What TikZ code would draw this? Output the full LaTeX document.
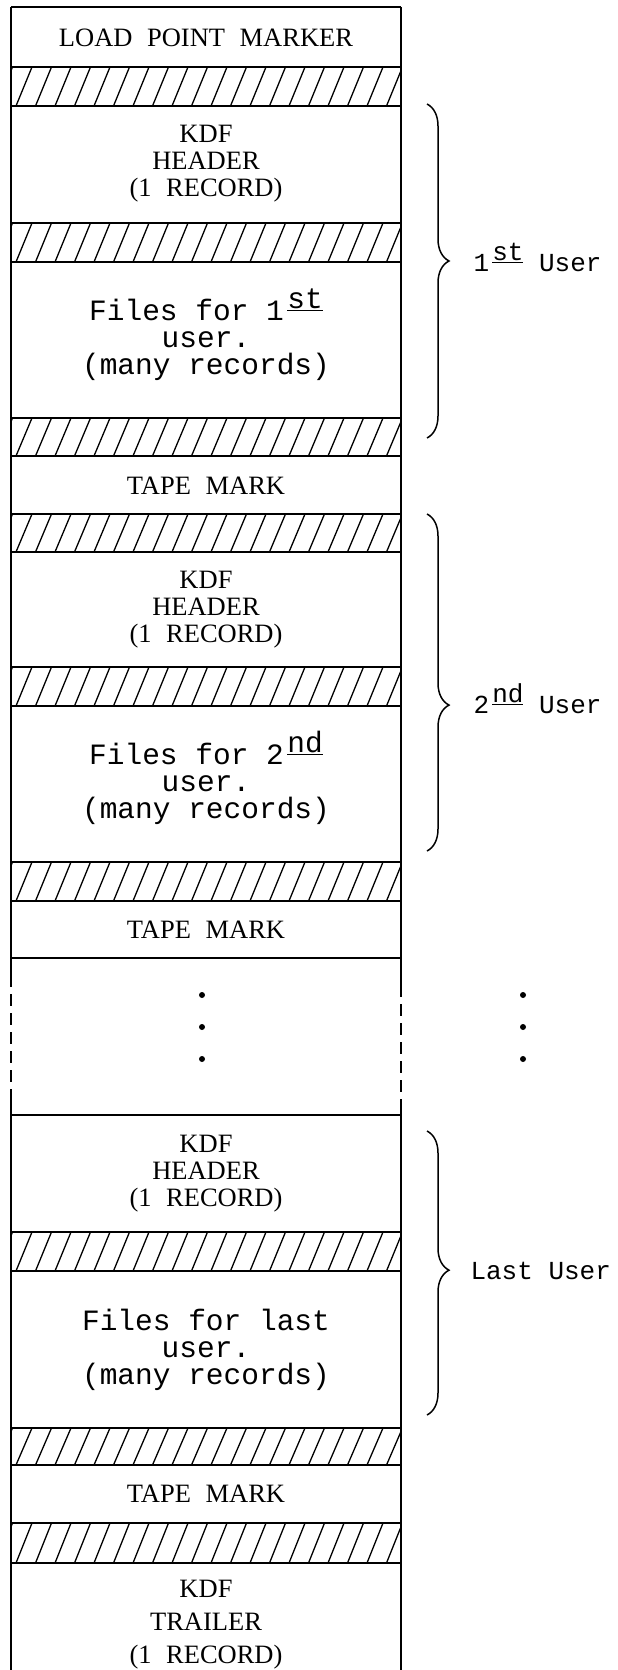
\documentclass[tikz,border=0pt]{standalone}
\usepackage{fontspec}
\setmainfont{Liberation Serif}
\newfontfamily\capsfont[WordSpace=2.2]{Liberation Serif}
\newfontfamily\typew{Liberation Mono}
\usetikzlibrary{decorations.pathreplacing}

% ordinal with underlined raised suffix
\newcommand{\ordsup}[1]{\hspace{0.12em}\raisebox{0.42em}[0pt][0pt]{\underline{#1}}}

% hatched gap between two records
\newcommand{\hatchband}[2]{%
  \begin{scope}
    \clip (11,#1) rectangle (401,#2);
    \foreach \k in {-1,...,21} \draw[hatchline] (\k*19.5+16,#2) -- (\k*19.5+32,#1);
  \end{scope}
  \draw[tapeline] (11,#1) -- (401,#1);
  \draw[tapeline] (11,#2) -- (401,#2);
}

\tikzset{
  tapeline/.style={line width=1.6pt},
  hatchline/.style={line width=1.3pt},
  caps/.style={align=center, font=\capsfont\fontsize{26.5}{27}\selectfont},
  mono/.style={align=center, font=\typew\fontsize{29.5}{27}\selectfont},
  userlabel/.style={anchor=west, font=\typew\fontsize{26}{27}\selectfont},
  userbrace/.style={line width=1.5pt, decorate},
}

\begin{document}
\begin{tikzpicture}[x=1pt, y=-1pt]
          \useasboundingbox (0,0) rectangle (618,1670);
          % tape edges
          \draw[tapeline] (11,7) -- (11,975);
          \draw[tapeline, dash pattern=on 12pt off 7pt] (11,975) -- (11,1098);
          \draw[tapeline] (11,1098) -- (11,1670);
          \draw[tapeline] (401,7) -- (401,985);
          \draw[tapeline, dash pattern=on 12pt off 7pt] (401,985) -- (401,1100);
          \draw[tapeline] (401,1100) -- (401,1670);
          % record boundaries
          \draw[tapeline] (11,7) -- (401,7);
          \draw[tapeline] (11,958) -- (401,958);
          \draw[tapeline] (11,1115) -- (401,1115);
          \hatchband{67}{106}
          \hatchband{223}{262}
          \hatchband{418}{456}
          \hatchband{514}{552}
          \hatchband{667}{706}
          \hatchband{862}{901}
          \hatchband{1232}{1271}
          \hatchband{1428}{1465}
          \hatchband{1523}{1563}
          % records
          \node[caps] (lpm) at (206,38) {LOAD POINT MARKER};
          \node[caps] (hdr1) at (206,164) {KDF\\HEADER\\(1 RECORD)};
          \node[mono] (files1) at (206,340) {Files for 1\ordsup{st}\\user.\\(many records)};
          \node[caps] (tm1) at (206,486) {TAPE MARK};
          \node[caps] (hdr2) at (206,610) {KDF\\HEADER\\(1 RECORD)};
          \node[mono] (files2) at (206,784) {Files for 2\ordsup{nd}\\user.\\(many records)};
          \node[caps] (tm2) at (206,930) {TAPE MARK};
          \node[caps] (hdr3) at (206,1174) {KDF\\HEADER\\(1 RECORD)};
          \node[mono] (files3) at (206,1350) {Files for last\\user.\\(many records)};
          \node[caps] (tm3) at (206,1494) {TAPE MARK};
          \node[caps, font=\capsfont\fontsize{26.5}{33}\selectfont] (trl) at (206,1625) {KDF\\TRAILER\\(1 RECORD)};
          % more users
          \foreach \y in {995,1027,1059} {
            \fill (202,\y) circle [radius=3pt];
            \fill (523,\y) circle [radius=3pt];
          }
          % users
          \coordinate (u1top) at (427,104);
          \coordinate (u1bot) at (427,438);
          \coordinate (u2top) at (427,514);
          \coordinate (u2bot) at (427,851);
          \coordinate (u3top) at (427,1131);
          \coordinate (u3bot) at (427,1415);
          \draw[userbrace, decoration={brace, amplitude=22pt, aspect=0.47}] (u1top) -- (u1bot);
          \draw[userbrace, decoration={brace, amplitude=22pt, aspect=0.567}] (u2top) -- (u2bot);
          \draw[userbrace, decoration={brace, amplitude=22pt, aspect=0.49}] (u3top) -- (u3bot);
          \node[userlabel] (user1) at (470,263) {1\ordsup{st} User};
          \node[userlabel] (user2) at (470,705) {2\ordsup{nd} User};
          \node[userlabel] (user3) at (467,1271) {Last User};
        \end{tikzpicture}
\end{document}
